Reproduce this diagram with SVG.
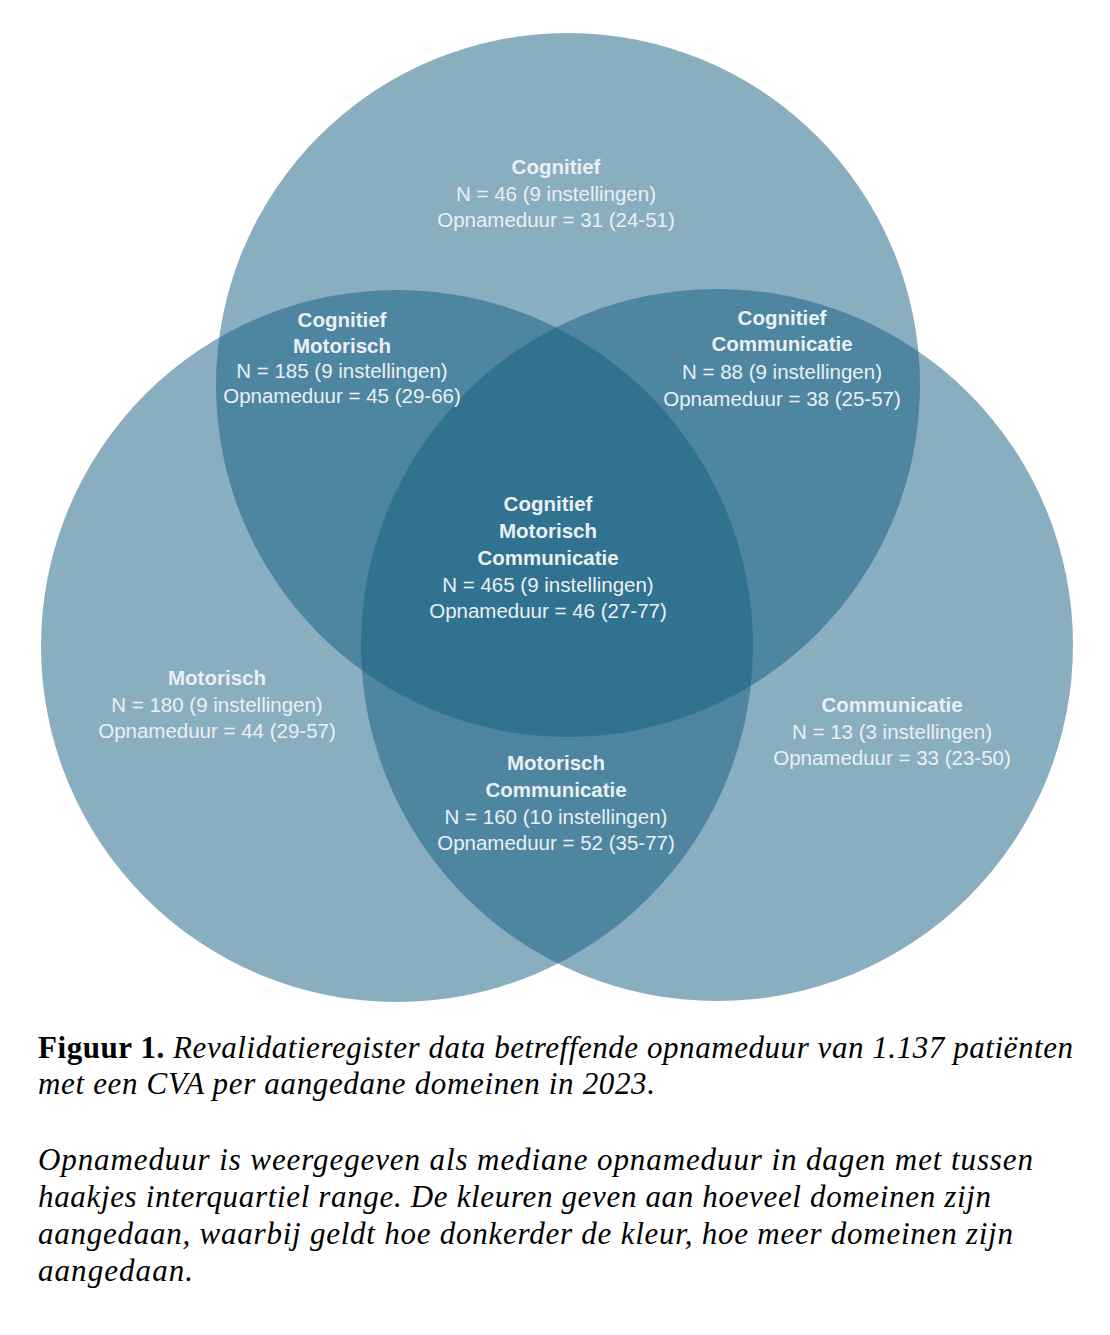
<svg xmlns="http://www.w3.org/2000/svg" width="1110" height="1335" viewBox="0 0 1110 1335">
<style>
.c{fill:#135d81;fill-opacity:0.5}
.t{font-family:"Liberation Sans",Arial,sans-serif;font-size:20.5px;fill:#eaf0f3;text-anchor:middle}
.b{font-weight:bold}
.cap{font-family:"Liberation Serif","Times New Roman",serif;font-size:31px;fill:#000;font-style:italic}
</style>
<rect width="1110" height="1335" fill="#ffffff"/>
<g id="circles">
<circle id="cognitief" class="c" cx="568" cy="385" r="352"/>
<circle id="motorisch" class="c" cx="397" cy="646" r="356"/>
<circle id="communicatie" class="c" cx="717" cy="645" r="356"/>
</g>
<g id="connectors"></g>
<g id="n-cog">
<text class="t b" x="556" y="174">Cognitief</text>
<text class="t" x="556" y="201">N = 46 (9 instellingen)</text>
<text class="t" x="556" y="227">Opnameduur = 31 (24-51)</text>
</g>
<g id="n-cog-mot">
<text class="t b" x="342" y="327">Cognitief</text>
<text class="t b" x="342" y="353">Motorisch</text>
<text class="t" x="342" y="378">N = 185 (9 instellingen)</text>
<text class="t" x="342" y="403">Opnameduur = 45 (29-66)</text>
</g>
<g id="n-cog-com">
<text class="t b" x="782" y="325">Cognitief</text>
<text class="t b" x="782" y="351">Communicatie</text>
<text class="t" x="782" y="379">N = 88 (9 instellingen)</text>
<text class="t" x="782" y="406">Opnameduur = 38 (25-57)</text>
</g>
<g id="n-all">
<text class="t b" x="548" y="511">Cognitief</text>
<text class="t b" x="548" y="538">Motorisch</text>
<text class="t b" x="548" y="565">Communicatie</text>
<text class="t" x="548" y="592">N = 465 (9 instellingen)</text>
<text class="t" x="548" y="618">Opnameduur = 46 (27-77)</text>
</g>
<g id="n-mot">
<text class="t b" x="217" y="685">Motorisch</text>
<text class="t" x="217" y="712">N = 180 (9 instellingen)</text>
<text class="t" x="217" y="738">Opnameduur = 44 (29-57)</text>
</g>
<g id="n-com">
<text class="t b" x="892" y="712">Communicatie</text>
<text class="t" x="892" y="739">N = 13 (3 instellingen)</text>
<text class="t" x="892" y="765">Opnameduur = 33 (23-50)</text>
</g>
<g id="n-mot-com">
<text class="t b" x="556" y="770">Motorisch</text>
<text class="t b" x="556" y="797">Communicatie</text>
<text class="t" x="556" y="824">N = 160 (10 instellingen)</text>
<text class="t" x="556" y="850">Opnameduur = 52 (35-77)</text>
</g>
<g id="caption">
<text class="cap" x="38" y="1058" textLength="1035" lengthAdjust="spacing"><tspan font-style="normal" font-weight="bold">Figuur 1.</tspan> Revalidatieregister data betreffende opnameduur van 1.137 patiënten</text>
<text class="cap" x="38" y="1094" textLength="617" lengthAdjust="spacing">met een CVA per aangedane domeinen in 2023.</text>
<text class="cap" x="38" y="1170" textLength="995" lengthAdjust="spacing">Opnameduur is weergegeven als mediane opnameduur in dagen met tussen</text>
<text class="cap" x="38" y="1207" textLength="953" lengthAdjust="spacing">haakjes interquartiel range. De kleuren geven aan hoeveel domeinen zijn</text>
<text class="cap" x="38" y="1244" textLength="975" lengthAdjust="spacing">aangedaan, waarbij geldt hoe donkerder de kleur, hoe meer domeinen zijn</text>
<text class="cap" x="38" y="1281" textLength="155" lengthAdjust="spacing">aangedaan.</text>
</g>
</svg>
